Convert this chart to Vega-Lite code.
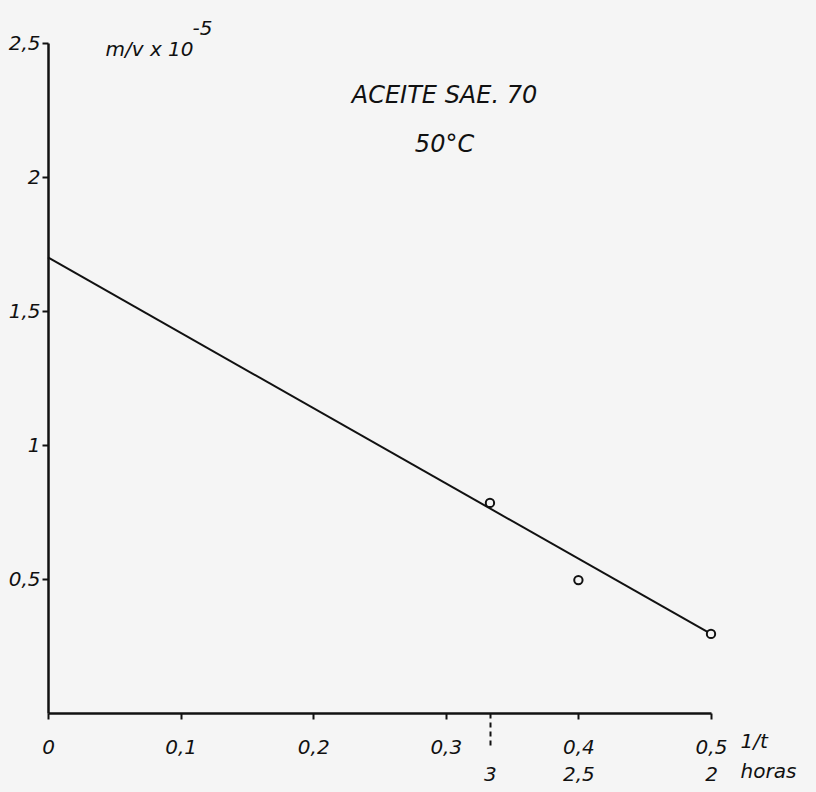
{
  "$schema": "https://vega.github.io/schema/vega-lite/v6.json",
  "width": 663,
  "height": 670,
  "autosize": "none",
  "padding": {"left": 48, "top": 43, "right": 105, "bottom": 79},
  "background": "#f5f5f5",
  "config": {
    "view": {"stroke": null},
    "font": "DejaVu Sans",
    "axis": {
      "domainColor": "#111",
      "tickColor": "#111",
      "labelColor": "#111",
      "titleColor": "#111",
      "labelFont": "DejaVu Sans",
      "titleFont": "DejaVu Sans",
      "labelFontStyle": "italic",
      "titleFontStyle": "italic",
      "titleFontWeight": "normal",
      "labelFontSize": 20,
      "titleFontSize": 20,
      "grid": false,
      "labelFlush": false,
      "labelOverlap": false,
      "domainWidth": 2.5,
      "tickWidth": 2
    }
  },
  "title": {
    "text": ["ACEITE SAE. 70", "50°C"],
    "anchor": "middle",
    "dx": 65,
    "offset": -139,
    "font": "DejaVu Sans",
    "fontSize": 24,
    "fontStyle": "italic",
    "fontWeight": "normal",
    "lineHeight": 49,
    "color": "#111"
  },
  "datasets": {
    "obs": [
      {"inv_t": 0.3333, "m_v": 0.784},
      {"inv_t": 0.4, "m_v": 0.496},
      {"inv_t": 0.5, "m_v": 0.295}
    ],
    "fit": [
      {"inv_t": 0, "m_v": 1.70},
      {"inv_t": 0.5, "m_v": 0.295}
    ]
  },
  "resolve": {"axis": {"y": "independent"}},
  "layer": [
    {
      "data": {"name": "fit"},
      "mark": {"type": "line", "color": "#111", "strokeWidth": 2},
      "encoding": {
        "x": {
          "field": "inv_t",
          "type": "quantitative",
          "scale": {"domain": [0, 0.5], "nice": false},
          "axis": {
            "values": [0, 0.1, 0.2, 0.3, 0.3333, 0.4, 0.5],
            "labelExpr": "datum.value < 0.001 ? '0' : abs(datum.value - 0.3333) < 0.01 ? [' ', '3'] : abs(datum.value - 0.4) < 0.01 ? ['0,4', '2,5'] : abs(datum.value - 0.5) < 0.01 ? ['0,5', '2'] : replace(format(datum.value, '.1f'), '.', ',')",
            "tickSize": {"condition": {"test": "abs(datum.value - 0.3333) < 0.01", "value": 34}, "value": 6},
            "tickDash": {"condition": {"test": "abs(datum.value - 0.3333) < 0.01", "value": [5, 4]}, "value": []},
            "labelPadding": {"condition": {"test": "abs(datum.value - 0.3333) < 0.01", "value": -10}, "value": 18},
            "labelLineHeight": 27,
            "labelBaseline": "top",
            "title": ["1/t", "horas"],
            "titleAlign": "left",
            "titleBaseline": "top",
            "titleX": 692,
            "titleY": 18,
            "titleLineHeight": 30
          }
        },
        "y": {
          "field": "m_v",
          "type": "quantitative",
          "scale": {"domain": [0, 2.5], "nice": false},
          "axis": {
            "values": [0.5, 1, 1.5, 2, 2.5],
            "labelExpr": "replace(format(datum.value, '.1~f'), '.', ',')",
            "tickSize": 6,
            "labelPadding": 2,
            "encode": {"ticks": {"update": {"x2": {"value": 6}}}},
            "title": "m/v x 10",
            "titleAngle": 0,
            "titleAlign": "left",
            "titleBaseline": "alphabetic",
            "titleX": 57,
            "titleY": 12
          }
        }
      }
    },
    {
      "data": {"name": "obs"},
      "mark": {"type": "point", "shape": "circle", "filled": true, "fill": "#f5f5f5", "stroke": "#111", "strokeWidth": 2, "size": 70, "opacity": 1},
      "encoding": {
        "x": {"field": "inv_t", "type": "quantitative"},
        "y": {
          "field": "m_v",
          "type": "quantitative",
          "axis": {
            "orient": "right",
            "domain": false,
            "ticks": false,
            "labels": false,
            "title": "-5",
            "titleAngle": 0,
            "titleAlign": "left",
            "titleBaseline": "alphabetic",
            "titleX": -519,
            "titleY": -9
          }
        }
      }
    }
  ]
}
